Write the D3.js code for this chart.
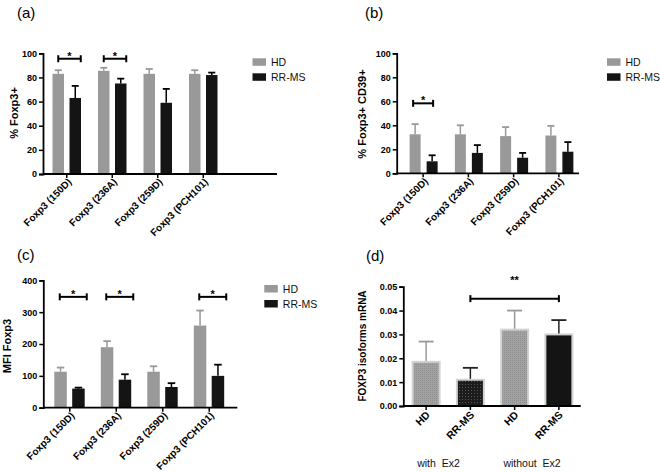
<!DOCTYPE html>
<html><head><meta charset="utf-8">
<script src="https://cdn.jsdelivr.net/npm/d3@7/dist/d3.min.js"></script>
<style>
html,body{margin:0;padding:0;background:#fff;}
svg{display:block;}
text{font-family:"Liberation Sans",Arial,sans-serif;}
</style></head>
<body>
<svg id="chart" width="660" height="472"></svg>
<script>
// ---------- data ----------
const categories = ["Foxp3 (150D)", "Foxp3 (236A)", "Foxp3 (259D)", "Foxp3 (PCH101)"];
const seriesNames = ["HD", "RR-MS"];

// (a) % Foxp3+
const aHD = [83, 85.5, 83, 83];
const aHDsem = [3, 2.5, 4, 3];
const aRR = [63, 75, 59, 82];
const aRRsem = [10, 4, 11.5, 2];
const aTicks = [0, 20, 40, 60, 80, 100];
const aSig = [0, 1];          // groups with "*"

// (b) % Foxp3+ CD39+
const bHD = [32.5, 32.5, 31, 31.5];
const bHDsem = [8.5, 7.5, 7.5, 8];
const bRR = [10, 17, 13, 18];
const bRRsem = [5, 6.5, 4, 8];
const bTicks = [0, 20, 40, 60, 80, 100];
const bSig = [0];

// (c) MFI Foxp3
const cHD = [113, 190, 113, 258];
const cHDsem = [13, 19, 17, 47];
const cRR = [60, 88, 65, 100];
const cRRsem = [3, 17, 12, 35];
const cTicks = [0, 100, 200, 300, 400];
const cSig = [0, 1, 3];

// (d) FOXP3 isoforms mRNA
const dLabels = ["HD", "RR-MS", "HD", "RR-MS"];
const dGroups = ["with  Ex2", "without  Ex2"];
const dValues = [0.0185, 0.011, 0.032, 0.030];
const dSem = [0.0085, 0.005, 0.008, 0.006];
const dTicks = [0, 0.01, 0.02, 0.03, 0.04, 0.05];

// ---------- drawing ----------
const svg = d3.select("#chart");
const GREY = "#999999", BLACK = "#141414";

const defs = svg.append("defs");
const p1 = defs.append("pattern").attr("id","hdPat").attr("width",2).attr("height",2).attr("patternUnits","userSpaceOnUse");
p1.append("rect").attr("width",2).attr("height",2).attr("fill","#a2a2a2");
p1.append("rect").attr("width",1).attr("height",1).attr("fill","#8f8f8f");
const p2 = defs.append("pattern").attr("id","rrPat").attr("width",3).attr("height",3).attr("patternUnits","userSpaceOnUse");
p2.append("rect").attr("width",3).attr("height",3).attr("fill","#1c1c1c");
p2.append("rect").attr("width",1).attr("height",1).attr("fill","#555");

function yAxis(g, y, x0, ticks, fmt) {
  const ax = d3.axisLeft(y).tickValues(ticks).tickFormat(fmt).tickSize(4).tickPadding(2);
  const a = g.append("g").attr("transform", `translate(${x0},0)`).call(ax);
  a.select(".domain").attr("stroke", "#000").attr("stroke-width", 1.8);
  a.selectAll(".tick line").attr("stroke", "#000").attr("stroke-width", 1.5);
  a.selectAll(".tick text").attr("font-size", 9).attr("font-weight", "bold").attr("fill", "#000")
    .attr("font-family", '"Liberation Sans",Arial,sans-serif');
}

function xAxis(g, x, yB, x0, x1, labels) {
  g.append("line").attr("x1", x0).attr("x2", x1).attr("y1", yB).attr("y2", yB)
    .attr("stroke", "#000").attr("stroke-width", 1.8);
  const ax = d3.axisBottom(x).tickSize(4).tickFormat(() => "");
  const a = g.append("g").attr("transform", `translate(0,${yB})`).call(ax);
  a.select(".domain").remove();
  a.selectAll(".tick line").attr("stroke", "#000").attr("stroke-width", 1.5);
  g.selectAll(null).data(labels).enter().append("text")
    .attr("transform", (d, i) => `translate(${x(x.domain()[i]) + x.bandwidth()/2 + 3},${yB + 6}) rotate(-45)`)
    .attr("text-anchor", "end").attr("dy", "0.35em")
    .attr("font-size", 10).attr("font-weight", "bold").attr("fill", "#000")
    .text(d => d);
}

function errBar(g, cx, yTop, yVal, capW, color) {
  g.append("line").attr("x1", cx).attr("x2", cx).attr("y1", yVal).attr("y2", yTop)
    .attr("stroke", color).attr("stroke-width", 1.5);
  g.append("line").attr("x1", cx - capW/2).attr("x2", cx + capW/2).attr("y1", yTop).attr("y2", yTop)
    .attr("stroke", color).attr("stroke-width", 1.8);
}

function bracket(g, xa, xb, yy, stars, starDy) {
  g.append("line").attr("x1", xa).attr("x2", xb).attr("y1", yy).attr("y2", yy).attr("stroke", "#000").attr("stroke-width", 2);
  [xa, xb].forEach(xx => g.append("line").attr("x1", xx).attr("x2", xx).attr("y1", yy - 3.5).attr("y2", yy + 3.5)
    .attr("stroke", "#000").attr("stroke-width", 2));
  g.append("text").attr("x", (xa + xb) / 2).attr("y", yy + starDy).attr("text-anchor", "middle")
    .attr("font-size", 11).attr("font-weight", "bold").text(stars);
}

function legend(g, lx, ly) {
  const cols = [GREY, BLACK];
  seriesNames.forEach((n, i) => {
    g.append("rect").attr("x", lx).attr("y", ly + i * 15).attr("width", 13.5).attr("height", 7.5).attr("fill", cols[i]);
    g.append("text").attr("x", lx + 18.5).attr("y", ly + i * 15 + 7.5).attr("font-size", 10.5)
      .attr("font-family", '"Liberation Sans",Arial,sans-serif').attr("fill", "#111").text(n);
  });
}

function groupedPanel(o) {
  const g = svg.append("g");
  const x = d3.scaleBand().domain(categories).range(o.xRange).padding(0);
  const y = d3.scaleLinear().domain([0, o.yMax]).range([o.yB, o.yT]);
  const c = d => x(d) + x.bandwidth() / 2;
  const series = [[o.hd, o.hdSem, GREY, o.offHD, GREY], [o.rr, o.rrSem, BLACK, o.offRR, "#000"]];
  series.forEach(([vals, sems, col, off, ecol]) => {
    vals.forEach((v, i) => {
      const cx = c(categories[i]) + off;
      errBar(g, cx, y(v + sems[i]), y(v), o.capW, ecol);
      g.append("rect").attr("x", cx - o.bw / 2).attr("y", y(v)).attr("width", o.bw).attr("height", y(0) - y(v)).attr("fill", col);
    });
  });
  yAxis(g, y, o.x0, o.ticks, d3.format("d"));
  xAxis(g, x, o.yB, o.x0, o.x1, categories);
  o.sig.forEach(i => bracket(g, c(categories[i]) + o.brA, c(categories[i]) + o.brB, y(o.brV), "*", o.starDy));
  legend(g, o.legX, o.legY);
  g.append("text").attr("transform", `translate(${o.ylX},${o.ylY}) rotate(-90)`).attr("text-anchor", "middle")
    .attr("font-size", 11).attr("font-weight", "bold").text(o.ylabel);
  g.append("text").attr("x", o.tagX).attr("y", o.tagY).attr("font-size", 15)
    .attr("font-family", '"Open Sans","Noto Sans",sans-serif').text(o.tag);
}

groupedPanel({ tag: "(a)", tagX: 17, tagY: 18, xRange: [44, 226], x0: 43, x1: 277, yT: 53.3, yB: 174, yMax: 100,
  ticks: aTicks, hd: aHD, hdSem: aHDsem, rr: aRR, rrSem: aRRsem, bw: 11.5, offHD: -8.5, offRR: 8.5, capW: 7,
  sig: aSig, brA: -8.5, brB: 14, brV: 95.5, starDy: 1, legX: 252.5, legY: 58.3,
  ylabel: "% Foxp3+", ylX: 18, ylY: 113 });

groupedPanel({ tag: "(b)", tagX: 365, tagY: 18, xRange: [400.5, 581.5], x0: 396.7, x1: 579, yT: 53.3, yB: 173.3, yMax: 100,
  ticks: bTicks, hd: bHD, hdSem: bHDsem, rr: bRR, rrSem: bRRsem, bw: 11, offHD: -8, offRR: 9, capW: 7,
  sig: bSig, brA: -10, brB: 10, brV: 58.3, starDy: 1, legX: 607, legY: 58.3,
  ylabel: "% Foxp3+ CD39+", ylX: 366, ylY: 114 });

groupedPanel({ tag: "(c)", tagX: 17, tagY: 260, xRange: [46.5, 232.5], x0: 43.3, x1: 237.3, yT: 280.3, yB: 407.7, yMax: 400,
  ticks: cTicks, hd: cHD, hdSem: cHDsem, rr: cRR, rrSem: cRRsem, bw: 12.5, offHD: -9.2, offRR: 8.7, capW: 7.5,
  sig: cSig, brA: -10, brB: 17, brV: 348, starDy: 1, legX: 264.3, legY: 285,
  ylabel: "MFI Foxp3", ylX: 11, ylY: 346 });

// (d)
(function () {
  const g = svg.append("g");
  const keys = dLabels.map((d, i) => i);
  const x = d3.scaleBand().domain(keys).range([404, 581]).padding(0);
  const y = d3.scaleLinear().domain([0, 0.05]).range([406, 286.7]);
  const c = i => x(i) + x.bandwidth() / 2;
  const fills = ["url(#hdPat)", "url(#rrPat)", "url(#hdPat)", BLACK];
  const ecols = [GREY, "#222", GREY, "#222"];
  const bw = 27;
  dValues.forEach((v, i) => {
    errBar(g, c(i), y(v + dSem[i]), y(v), 15, ecols[i]);
    g.append("rect").attr("x", c(i) - bw / 2).attr("y", y(v)).attr("width", bw).attr("height", y(0) - y(v))
      .attr("fill", fills[i]).attr("stroke", "#d2d2d2").attr("stroke-width", 2);
  });
  yAxis(g, y, 403.3, dTicks, d3.format(".2f"));
  g.append("line").attr("x1", 403.3).attr("x2", 580.7).attr("y1", 406).attr("y2", 406).attr("stroke", "#000").attr("stroke-width", 1.8);
  const ax = d3.axisBottom(x).tickSize(4).tickFormat(() => "");
  const a = g.append("g").attr("transform", "translate(0,406)").call(ax);
  a.select(".domain").remove();
  a.selectAll(".tick line").attr("stroke", "#000").attr("stroke-width", 1.5);
  g.selectAll(null).data(dLabels).enter().append("text")
    .attr("transform", (d, i) => `translate(${c(i) + 2},${413}) rotate(-45)`)
    .attr("text-anchor", "end").attr("dy", "0.35em")
    .attr("font-size", 10.5).attr("font-weight", "bold").text(d => d);
  bracket(g, c(1), c(3), y(0.045), "", 0);
  g.append("text").attr("x", (c(1) + c(3)) / 2).attr("y", 284).attr("text-anchor", "middle")
    .attr("font-size", 11).attr("font-weight", "bold").text("**");
  const groupCenters = [438.5, 532];
  dGroups.forEach((t, k) => {
    g.append("text").attr("x", groupCenters[k]).attr("y", 466.5).attr("text-anchor", "middle")
      .attr("font-size", 10.5).attr("font-family", '"Open Sans","Noto Sans",sans-serif').attr("fill", "#111")
      .style("white-space", "pre").text(t);
  });
  g.append("text").attr("transform", "translate(366,346) rotate(-90)").attr("text-anchor", "middle")
    .attr("font-size", 10).attr("font-weight", "bold").text("FOXP3 isoforms mRNA");
  g.append("text").attr("x", 366).attr("y", 261).attr("font-size", 15)
    .attr("font-family", '"Open Sans","Noto Sans",sans-serif').text("(d)");
})();
</script>
</body></html>
